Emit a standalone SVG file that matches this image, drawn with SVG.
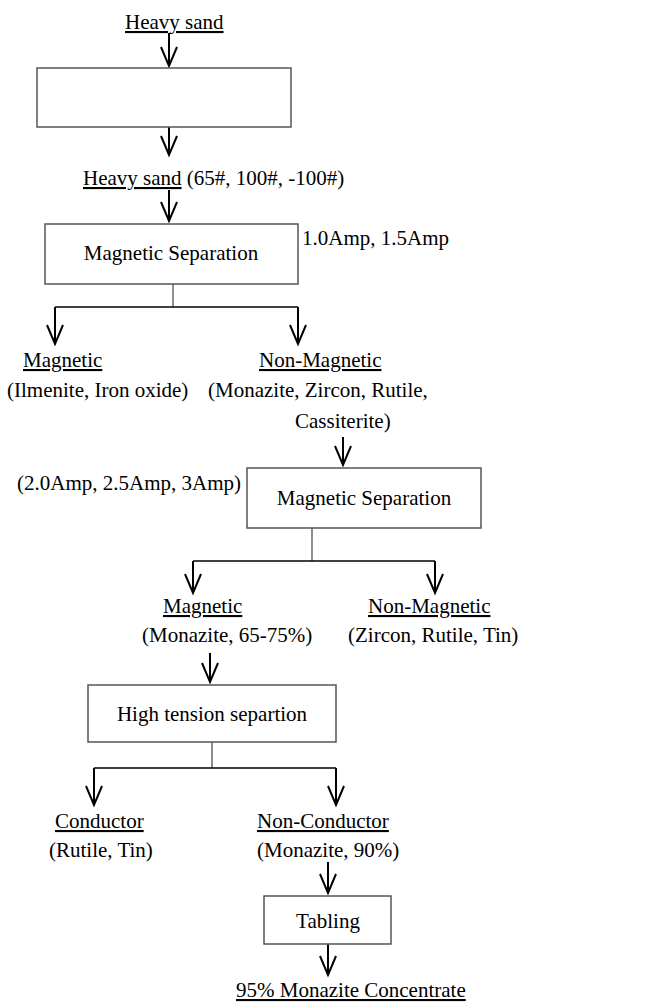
<svg xmlns="http://www.w3.org/2000/svg" width="652" height="1003" viewBox="0 0 652 1003">
  <style>
    text { font-family: "Liberation Serif", "Times New Roman", serif; font-size: 21px; fill: #000; }
    .mid { text-anchor: middle; }
    .u { text-decoration: underline; }
    .box { fill: #fff; stroke: #555; stroke-width: 1.5; }
    .stem { stroke: #444; stroke-width: 1.2; fill: none; }
    .bar { stroke: #000; stroke-width: 1.6; fill: none; }
    .arr { stroke: #000; stroke-width: 2; fill: none; marker-end: url(#v); }
  </style>
  <defs>
    <marker id="v" markerUnits="userSpaceOnUse" markerWidth="30" markerHeight="30" refX="0" refY="0" orient="auto" overflow="visible">
      <path d="M-19,-8 L0,0 L-19,8" fill="none" stroke="#000" stroke-width="2"/>
    </marker>
  </defs>
  <rect width="652" height="1003" fill="#fff"/>

  <g id="connectors">
    <line class="arr" x1="169" y1="33" x2="169" y2="66"/>
    <line class="arr" x1="169" y1="127" x2="169" y2="155"/>
    <line class="arr" x1="169" y1="190" x2="169" y2="221"/>
    <line class="stem" x1="173" y1="284" x2="173" y2="307"/>
    <line class="bar" x1="55" y1="307" x2="298" y2="307"/>
    <line class="arr" x1="55" y1="307" x2="55" y2="344"/>
    <line class="arr" x1="298" y1="307" x2="298" y2="344"/>
    <line class="arr" x1="343" y1="437" x2="343" y2="465"/>
    <line class="stem" x1="312" y1="528" x2="312" y2="561"/>
    <line class="bar" x1="193" y1="561" x2="435" y2="561"/>
    <line class="arr" x1="193" y1="561" x2="193" y2="593"/>
    <line class="arr" x1="435" y1="561" x2="435" y2="593"/>
    <line class="arr" x1="210" y1="653" x2="210" y2="682"/>
    <line class="stem" x1="212" y1="742" x2="212" y2="768"/>
    <line class="bar" x1="94" y1="768" x2="336" y2="768"/>
    <line class="arr" x1="94" y1="768" x2="94" y2="805"/>
    <line class="arr" x1="336" y1="768" x2="336" y2="805"/>
    <line class="arr" x1="328" y1="862" x2="328" y2="893"/>
    <line class="arr" x1="328" y1="944" x2="328" y2="975"/>
  </g>

  <g id="heavy-sand-top">
    <text x="125" y="29" class="u">Heavy sand</text>
  </g>
  <g id="box-empty">
    <rect class="box" x="37" y="68" width="254" height="59"/>
  </g>
  <g id="heavy-sand-sized">
    <text x="83" y="185"><tspan class="u">Heavy sand</tspan> (65#, 100#, -100#)</text>
  </g>
  <g id="magsep1">
    <rect class="box" x="45" y="224" width="253" height="60"/>
    <text x="171" y="260" class="mid">Magnetic Separation</text>
    <text x="302" y="245">1.0Amp, 1.5Amp</text>
  </g>
  <g id="magnetic1">
    <text x="23" y="367" class="u">Magnetic </text>
    <text x="7" y="397">(Ilmenite, Iron oxide)</text>
  </g>
  <g id="nonmagnetic1">
    <text x="259" y="367" class="u">Non-Magnetic</text>
    <text x="208" y="397">(Monazite, Zircon, Rutile,</text>
    <text x="295" y="428">Cassiterite)</text>
  </g>
  <g id="magsep2">
    <rect class="box" x="247" y="468" width="234" height="60"/>
    <text x="364" y="505" class="mid">Magnetic Separation</text>
    <text x="17" y="490">(2.0Amp, 2.5Amp, 3Amp)</text>
  </g>
  <g id="magnetic2">
    <text x="163" y="613" class="u">Magnetic</text>
    <text x="142" y="642">(Monazite, 65-75%)</text>
  </g>
  <g id="nonmagnetic2">
    <text x="368" y="613" class="u">Non-Magnetic</text>
    <text x="348" y="642">(Zircon, Rutile, Tin)</text>
  </g>
  <g id="hts">
    <rect class="box" x="88" y="685" width="248" height="57"/>
    <text x="212" y="721" class="mid">High tension separtion</text>
  </g>
  <g id="conductor">
    <text x="55" y="828" class="u">Conductor</text>
    <text x="49" y="857">(Rutile, Tin)</text>
  </g>
  <g id="nonconductor">
    <text x="257" y="828" class="u">Non-Conductor</text>
    <text x="257" y="857">(Monazite, 90%)</text>
  </g>
  <g id="tabling">
    <rect class="box" x="264" y="896" width="127" height="48"/>
    <text x="328" y="928" class="mid">Tabling</text>
  </g>
  <g id="concentrate">
    <text x="236" y="997" class="u">95% Monazite Concentrate</text>
  </g>
</svg>
